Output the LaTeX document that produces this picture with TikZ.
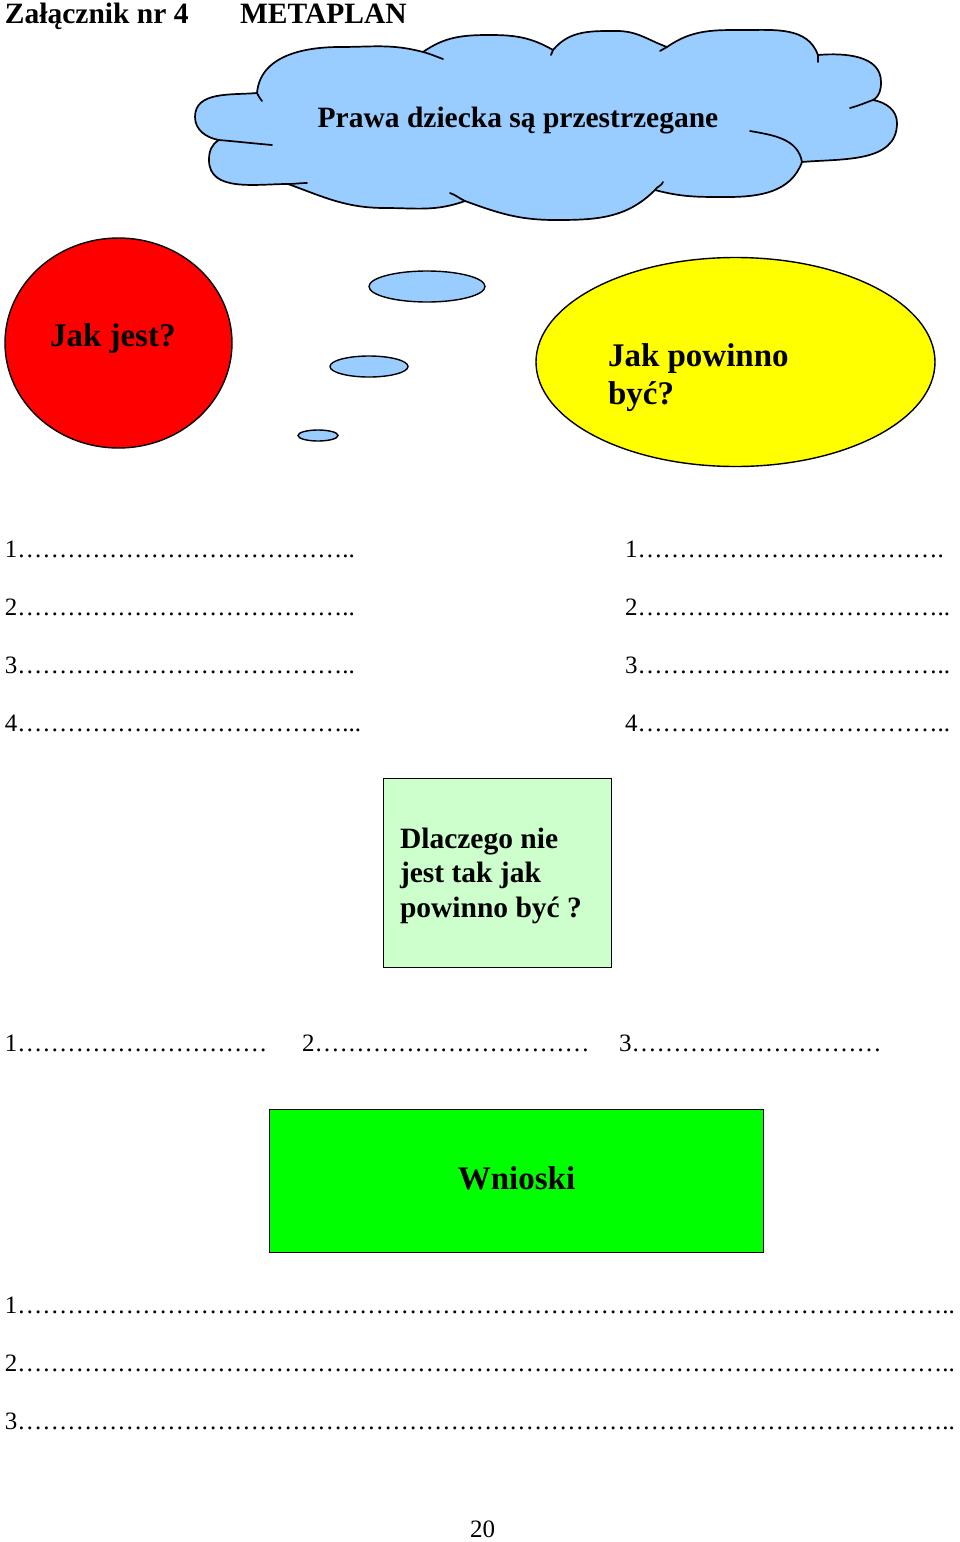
\documentclass[tikz,border=0pt]{standalone}
\usepackage{fontspec}
\setmainfont{Liberation Serif}
\usetikzlibrary{shapes.geometric}
\ExplSyntaxOn
\cs_new:Npn \reptext #1#2 { \prg_replicate:nn {#1} {#2} }
\ExplSyntaxOff
\definecolor{cloudblue}{HTML}{99CCFF}
\definecolor{redfill}{HTML}{FF0000}
\definecolor{yellowfill}{HTML}{FFFF00}
\definecolor{palegreen}{HTML}{CCFFCC}
\definecolor{brightgreen}{HTML}{00FF00}
\newcommand{\fhead}{\fontsize{29.5}{34}\selectfont\bfseries}
\newcommand{\fbig}{\fontsize{33}{38}\selectfont\bfseries}
\newcommand{\flist}{\fontsize{25}{29}\selectfont}
\tikzset{
  txt/.style={anchor=base west, inner sep=0pt, outer sep=0pt},
  shapeline/.style={draw=black, line width=1.4pt},
  bubble/.style={ellipse, shapeline, fill=cloudblue, inner sep=0pt},
  cloudline/.style={draw=black, line width=1.7pt, line join=round},
  tick/.style={draw=black, line width=1.7pt, line cap=round},
}
\begin{document}
\begin{tikzpicture}[x=1pt,y=1pt]
\useasboundingbox (0,0) rectangle (960,-1542);
% header
\node[txt, font=\fhead] (hdrA) at (5,-23) {Załącznik nr 4};
\node[txt, font=\fhead] (hdrB) at (240,-23) {METAPLAN};
% cloud
\coordinate (n1) at (257,-93);
\coordinate (n2) at (423,-52);
\coordinate (n3) at (553,-50);
\coordinate (n4) at (667,-47);
\coordinate (n5) at (818,-55);
\coordinate (n6) at (873,-100);
\coordinate (n7) at (802,-162);
\coordinate (n8) at (655,-190);
\coordinate (n9) at (465,-201);
\coordinate (n10) at (288,-184);
\coordinate (n11) at (219,-140);
\path[cloudline, fill=cloudblue]
  (n1) to[out=85,in=180] (340,-47) to[out=0,in=165] (n2)
  to[out=35,in=180] (490,-35) to[out=0,in=150] (n3)
  to[out=50,in=180] (617,-31) to[out=0,in=160] (n4)
  to[out=35,in=180] (745,-30) to[out=0,in=110] (n5)
  to[out=5,in=90] (881,-82) to[out=-90,in=30] (n6)
  to[out=-10,in=90] (897,-123) to[out=-90,in=5] (n7)
  to[out=-110,in=0] (727,-197) to[out=180,in=-15] (n8)
  to[out=-135,in=0] (555,-220) to[out=180,in=-20] (n9)
  to[out=-160,in=0] (385,-208) to[out=180,in=-20] (n10)
  to[out=180,in=-90] (209,-160) to[out=90,in=210] (n11)
  to[out=170,in=-90] (195,-117) to[out=90,in=185] cycle;
\draw[tick] (n1) to[out=-85,in=110] (262,-101);
\draw[tick] (n2) to[out=-15,in=160] (443,-59);
\draw[tick] (n3) to[out=-100,in=80] (551,-55);
\draw[tick] (n4) to[out=-150,in=30] (660,-51);
\draw[tick] (n5) to[out=-90,in=90] (818,-62);
\draw[tick] (n6) to[out=200,in=15] (850,-108);
\draw[tick] (750,-131) to[out=-10,in=100] (n7);
\draw[tick] (n8) to[out=60,in=-110] (663,-182);
\draw[tick] (n9) to[out=155,in=-20] (450,-193);
\draw[tick] (n10) to[out=0,in=180] (307,-183);
\draw[tick] (n11) to[out=-5,in=175] (272,-145);
\node[anchor=base, inner sep=0pt, font=\fhead] (cloudtxt) at (518,-127) {Prawa dziecka są przestrzegane};
% thought bubbles
\node[bubble, minimum width=116, minimum height=31] (b1) at (427,-286.5) {};
\node[bubble, minimum width=78, minimum height=21] (b2) at (369,-366.5) {};
\node[bubble, minimum width=40, minimum height=11] (b3) at (318,-435.5) {};
% red circle
\node[ellipse, shapeline, fill=redfill, minimum width=227, minimum height=210, inner sep=0pt] (isnow) at (118.5,-343) {};
\node[txt, font=\fbig] (isnowtxt) at (50,-346) {Jak jest?};
% yellow ellipse
\node[ellipse, shapeline, fill=yellowfill, minimum width=399, minimum height=209, inner sep=0pt] (should) at (735.5,-362) {};
\node[txt, font=\fbig] (shouldA) at (608,-366) {Jak powinno};
\node[txt, font=\fbig] (shouldB) at (608,-404) {być?};
% lists
\node[txt, font=\flist] (l1) at (5,-557) {1\reptext{13}{…}..};
\node[txt, font=\flist] (l2) at (5,-615) {2\reptext{13}{…}..};
\node[txt, font=\flist] (l3) at (5,-673) {3\reptext{13}{…}..};
\node[txt, font=\flist] (l4) at (5,-731) {4\reptext{13}{…}...};
\node[txt, font=\flist] (r1) at (625,-557) {1\reptext{12}{…}.};
\node[txt, font=\flist] (r2) at (625,-615) {2\reptext{12}{…}..};
\node[txt, font=\flist] (r3) at (625,-673) {3\reptext{12}{…}..};
\node[txt, font=\flist] (r4) at (625,-731) {4\reptext{12}{…}..};
% why box
\node[shapeline, fill=palegreen, minimum width=228, minimum height=189, inner sep=0pt, anchor=north west] (why) at (383,-778) {};
\node[txt, font=\fhead] (whyA) at (400,-848) {Dlaczego nie};
\node[txt, font=\fhead] (whyB) at (400,-882) {jest tak jak};
\node[txt, font=\fhead] (whyC) at (400,-917) {powinno być ?};
% reasons row
\node[txt, font=\flist] (m1) at (5,-1051) {1\reptext{10}{…}};
\node[txt, font=\flist] (m2) at (302,-1051) {2\reptext{11}{…}};
\node[txt, font=\flist] (m3) at (619,-1051) {3\reptext{10}{…}};
% conclusions box
\node[shapeline, fill=brightgreen, minimum width=494, minimum height=143, inner sep=0pt, anchor=north west] (concl) at (269,-1109) {};
\node[anchor=base, inner sep=0pt, font=\fbig] (concltxt) at (516.5,-1189) {Wnioski};
% conclusion lines
\node[txt, font=\flist] (c1) at (5,-1313) {1\reptext{37}{…}..};
\node[txt, font=\flist] (c2) at (5,-1371) {2\reptext{37}{…}..};
\node[txt, font=\flist] (c3) at (5,-1429) {3\reptext{37}{…}..};
% page number
\node[anchor=base, inner sep=0pt, font=\flist] (pg) at (482.5,-1537) {20};
\end{tikzpicture}
\end{document}
